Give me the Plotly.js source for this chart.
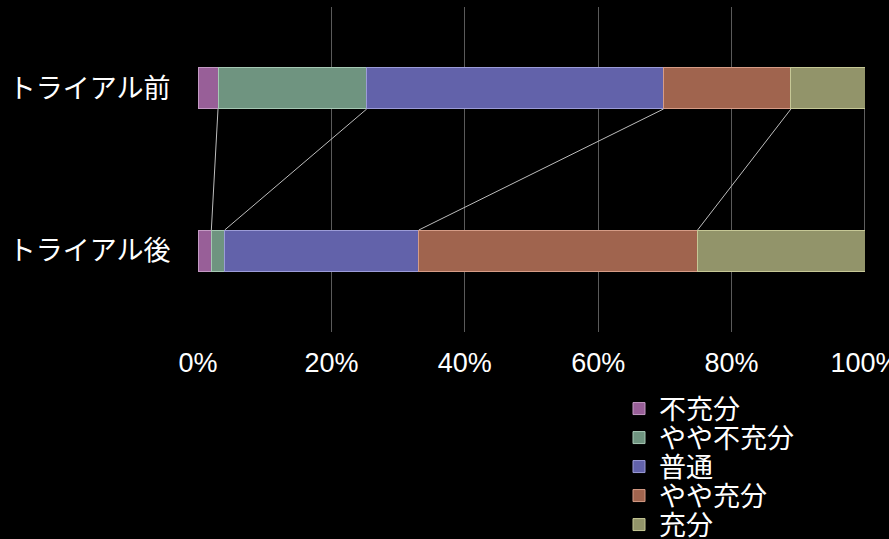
<!DOCTYPE html>
<html>
<head>
<meta charset="utf-8">
<script src="https://cdn.plot.ly/plotly-3.0.1.min.js"></script>
<style>html,body{margin:0;padding:0;background:#000;}</style>
</head>
<body>
<div id="chart" style="width:889px;height:539px;"></div>
<script>
// ---- data ----
const categories = ['トライアル前', 'トライアル後'];
const seriesNames = ['不充分', 'やや不充分', '普通', 'やや充分', '充分'];
const beforeValues = [3.0, 22.3, 44.5, 19.1, 11.1];
const afterValues  = [2.0, 2.0, 29.1, 41.8, 25.1];
const xTickValues = [0, 20, 40, 60, 80, 100];
const xTickLabels = ['0%', '20%', '40%', '60%', '80%', '100%'];

// ---- styles ----
const colors = ['#985f98', '#6f9480', '#6262aa', '#a0644e', '#92946a'];
const lineColors = ['#c49ac4', '#a6c8b4', '#9c9cd8', '#d69c86', '#c6c896'];
const barWidth = 0.255;
const font = '"Noto Sans CJK JP", "Noto Sans", sans-serif';

const yPos = [0, 1];
const traces = [];
seriesNames.forEach((name, i) => {
  traces.push({
    type: 'bar',
    orientation: 'h',
    name: name,
    y: yPos,
    x: [beforeValues[i], afterValues[i]],
    width: barWidth,
    marker: {color: colors[i], line: {color: lineColors[i], width: 1}},
    legend: i === 0 ? 'legend' : 'legend' + (i + 1),
    hoverinfo: 'x+name'
  });
});

// connector lines between cumulative boundaries (normalized to percent)
const sumB = beforeValues.reduce((a, b) => a + b, 0);
const sumA = afterValues.reduce((a, b) => a + b, 0);
let cb = 0, ca = 0;
for (let i = 0; i < seriesNames.length; i++) {
  cb += beforeValues[i]; ca += afterValues[i];
  traces.push({
    type: 'scatter', mode: 'lines',
    x: [cb / sumB * 100, ca / sumA * 100],
    y: [yPos[0] + barWidth / 2, yPos[1] - barWidth / 2],
    line: {color: '#bdbdbd', width: 1},
    showlegend: false, hoverinfo: 'skip'
  });
}

const W = 889, H = 539;
const plotTop = 7.25, plotBottom = 332.5;
const legendRows = [409, 438, 467, 496, 525];

const layout = {
  width: W, height: H,
  paper_bgcolor: '#000', plot_bgcolor: '#000',
  margin: {l: 198.3, r: 24, t: plotTop, b: H - plotBottom, autoexpand: false},
  barmode: 'stack',
  barnorm: 'percent',
  showlegend: true,
  font: {family: font, color: '#ffffff'},
  xaxis: {
    range: [0, 100],
    tickvals: xTickValues, ticktext: xTickLabels,
    showgrid: true, gridcolor: '#5a5a5a', gridwidth: 1,
    zeroline: false, showline: false,
    ticks: 'outside', ticklen: 7, tickcolor: 'rgba(0,0,0,0)',
    ticklabeloverflow: 'allow',
    tickfont: {family: '"Liberation Sans", Arial, sans-serif', size: 27, color: '#ffffff'},
    automargin: false,
    fixedrange: true
  },
  yaxis: {
    range: [1.5, -0.5],
    tickvals: yPos, ticktext: categories,
    showgrid: false, zeroline: false, showline: false,
    ticks: 'outside', ticklen: 21, tickcolor: 'rgba(0,0,0,0)',
    tickfont: {family: font, size: 27, color: '#ffffff'},
    automargin: false,
    fixedrange: true
  }
};
legendRows.forEach((row, i) => {
  const key = i === 0 ? 'legend' : 'legend' + (i + 1);
  layout[key] = {
    xref: 'container', yref: 'container',
    x: 619 / W, xanchor: 'left',
    y: 1 - row / H, yanchor: 'middle',
    bgcolor: 'rgba(0,0,0,0)',
    font: {family: font, size: 27, color: '#ffffff'},
    itemclick: false, itemdoubleclick: false
  };
});

Plotly.newPlot('chart', traces, layout, {displayModeBar: false, staticPlot: true});
</script>
</body>
</html>
